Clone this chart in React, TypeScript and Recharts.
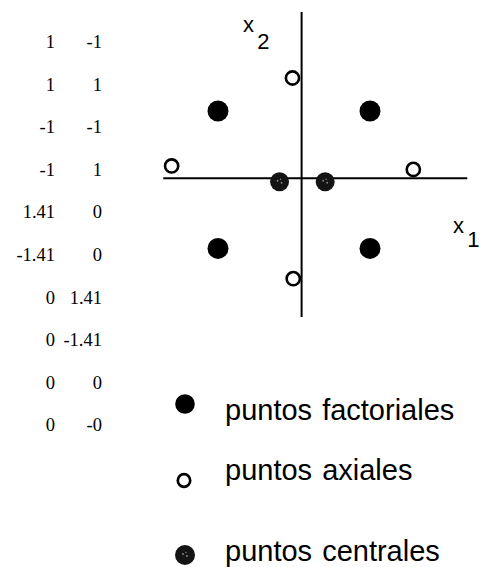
import React from 'react';
import { ScatterChart, Scatter, XAxis, YAxis, ReferenceLine } from 'recharts';

// Design table (x1, x2) shown on the left
const tableX1 = ['1', '1', '-1', '-1', '1.41', '-1.41', '0', '0', '0', '0'];
const tableX2 = ['-1', '1', '-1', '1', '0', '0', '1.41', '-1.41', '0', '-0'];

// Points as drawn in the diagram
const factorialX = [-1, 1, -1, 1];
const factorialY = [1, 1, -1, -1];
const axialX = [-0.02, -0.01, -1.61, 1.57];
const axialY = [1.48, -1.44, 0.2, 0.15];
const centralX = [-0.19, 0.41];
const centralY = [-0.03, -0.03];

// Axis cross lines
const originX = 0.1;
const originY = 0.02;
const hLineX = [-1.72, 2.28];
const vLineY = [-2.0, 2.44];

const legendLabels = ['puntos factoriales', 'puntos axiales', 'puntos centrales'];

const toPoints = (xs: number[], ys: number[]) => xs.map((x, i) => ({ x, y: ys[i] }));
const factorialData = toPoints(factorialX, factorialY);
const axialData = toPoints(axialX, axialY);
const centralData = toPoints(centralX, centralY);

const FactorialDot = ({ cx, cy, r = 10.5 }: any) => <circle cx={cx} cy={cy} r={r} fill="#000" />;
const AxialDot = ({ cx, cy }: any) => (
  <circle cx={cx} cy={cy} r={6.6} fill="#fff" stroke="#000" strokeWidth={2.6} />
);
const CentralDot = ({ cx, cy, r = 9.5 }: any) => (
  <g>
    <circle cx={cx} cy={cy} r={r} fill="#141414" />
    <circle cx={cx - 2} cy={cy - 1} r={0.9} fill="#8a8a8a" />
    <circle cx={cx + 2} cy={cy + 1} r={0.9} fill="#8a8a8a" />
    <circle cx={cx + 1} cy={cy - 2.5} r={0.7} fill="#8a8a8a" />
  </g>
);

const W = 480;
const H = 567;

export default function App() {
  const rowBase = [48, 90.6, 133.2, 175.8, 218.4, 261, 303.6, 346.2, 388.8, 431.4];
  const legendBase = [419.5, 480, 560.5];
  return (
    <div style={{ position: 'absolute', left: 0, top: 0, width: W, height: H, background: '#fff' }}>
      <ScatterChart
        width={W}
        height={H}
        margin={{ top: 7.95, right: 11.2, bottom: 243.03, left: 157.2 }}
      >
        <XAxis type="number" dataKey="x" domain={[-1.8, 2.3]} hide />
        <YAxis type="number" dataKey="y" domain={[-2.1, 2.5]} hide />
        <ReferenceLine
          segment={[{ x: hLineX[0], y: originY }, { x: hLineX[1], y: originY }]}
          stroke="#000"
          strokeWidth={2}
          ifOverflow="visible"
        />
        <ReferenceLine
          segment={[{ x: originX, y: vLineY[0] }, { x: originX, y: vLineY[1] }]}
          stroke="#000"
          strokeWidth={2}
          ifOverflow="visible"
        />
        <Scatter
          name={legendLabels[0]}
          data={factorialData}
          isAnimationActive={false}
          shape={(p: any) => <FactorialDot cx={p.cx} cy={p.cy} />}
        />
        <Scatter
          name={legendLabels[1]}
          data={axialData}
          isAnimationActive={false}
          shape={(p: any) => <AxialDot cx={p.cx} cy={p.cy} />}
        />
        <Scatter
          name={legendLabels[2]}
          data={centralData}
          isAnimationActive={false}
          shape={(p: any) => <CentralDot cx={p.cx} cy={p.cy} />}
        />
      </ScatterChart>
      <svg
        width={W}
        height={H}
        style={{ position: 'absolute', left: 0, top: 0, pointerEvents: 'none' }}
      >
        {tableX1.map((v, i) => (
          <text
            key={'a' + i}
            x={55}
            y={rowBase[i]}
            textAnchor="end"
            fontFamily="'Liberation Serif', 'Times New Roman', serif"
            fontSize={18.5}
            fill="#000"
          >
            {v}
          </text>
        ))}
        {tableX2.map((v, i) => (
          <text
            key={'b' + i}
            x={102}
            y={rowBase[i]}
            textAnchor="end"
            fontFamily="'Liberation Serif', 'Times New Roman', serif"
            fontSize={18.5}
            fill="#000"
          >
            {v}
          </text>
        ))}
        <g fontFamily="'Liberation Sans', Arial, sans-serif" fontSize={22} fill="#000">
          <text x={243} y={31.7}>x</text>
          <text x={257.3} y={49.3}>2</text>
          <text x={453} y={233.3}>x</text>
          <text x={479.5} y={246.7} textAnchor="end">1</text>
        </g>
        <FactorialDot cx={185} cy={404} r={9.8} />
        <ellipse cx={184} cy={480.5} rx={6.2} ry={6.4} fill="#fff" stroke="#000" strokeWidth={2.7} />
        <CentralDot cx={185} cy={555} r={10} />
        {legendLabels.map((l, i) => (
          <text
            key={'l' + i}
            x={225}
            y={legendBase[i]}
            fontFamily="'Liberation Sans', Arial, sans-serif"
            fontSize={29}
            fill="#000"
            style={{ wordSpacing: 2 }}
          >
            {l}
          </text>
        ))}
      </svg>
    </div>
  );
}
